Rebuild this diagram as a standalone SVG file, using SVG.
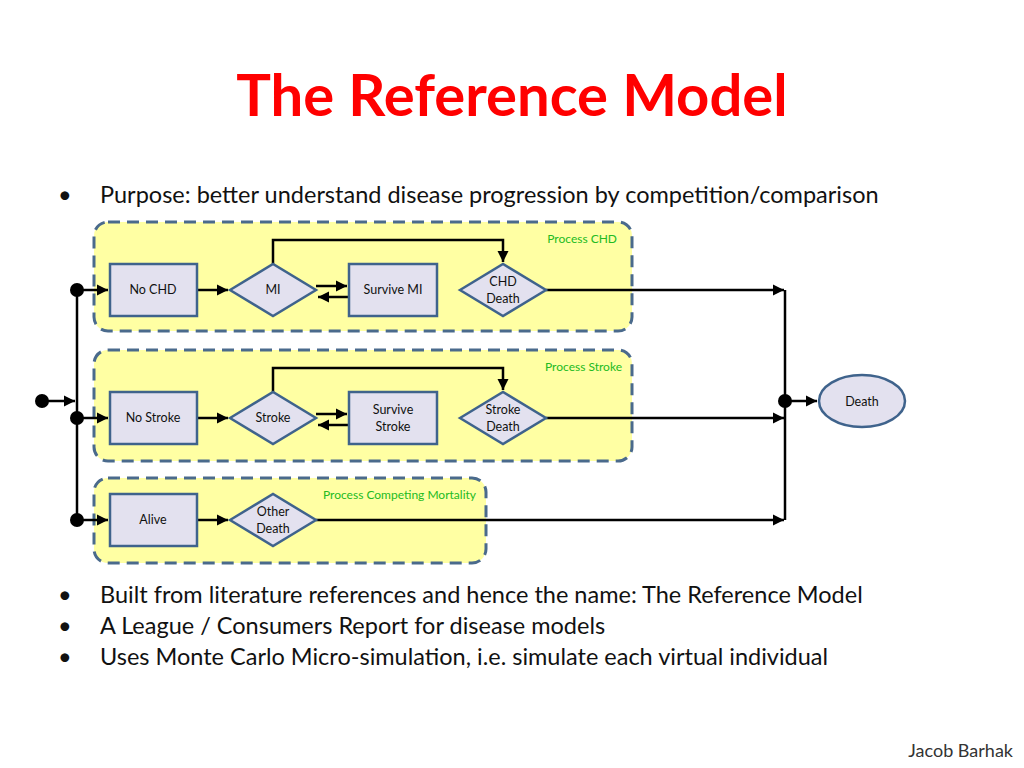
<svg xmlns="http://www.w3.org/2000/svg" width="1024" height="768" viewBox="0 0 1024 768">
<style>
.t{font-family:Lato,"Open Sans",sans-serif}
.box{fill:#ffff99;fill-opacity:0.9;stroke:#4a6a8c;stroke-width:3;stroke-dasharray:12,7}
.n{fill:#e3e1ef;stroke:#3f638c;stroke-width:2.5}
.nl{font-family:Lato,"Open Sans",sans-serif;font-size:12.5px;fill:#111;text-anchor:middle}
.pl{font-family:Lato,"Open Sans",sans-serif;font-size:12px;fill:#22bb22;text-anchor:end}
.c{fill:none;stroke:#000;stroke-width:2.5}
.b{font-family:Lato,"Open Sans",sans-serif;font-size:23.5px;fill:#111}
</style>
<defs>
<marker id="a" viewBox="0 0 10 10" refX="10" refY="5" markerWidth="4.5" markerHeight="4.5" orient="auto" markerUnits="strokeWidth"><path d="M0,0L10,5L0,10z" fill="#000"/></marker>
</defs>
<rect width="1024" height="768" fill="#fff"/>
<text x="512" y="116" class="t" font-size="58" font-weight="bold" fill="#ff0000" text-anchor="middle">The Reference Model</text>
<g class="b">
<text x="58" y="203">•</text><text x="100" y="203">Purpose: better understand disease progression by competition/comparison</text>
<text x="58" y="603">•</text><text x="100" y="603">Built from literature references and hence the name: The Reference Model</text>
<text x="58" y="634">•</text><text x="100" y="634">A League / Consumers Report for disease models</text>
<text x="58" y="665">•</text><text x="100" y="665">Uses Monte Carlo  Micro-simulation, i.e. simulate each virtual individual</text>
</g>
<text x="1013" y="757" class="t" font-size="18" fill="#333" text-anchor="end">Jacob Barhak</text>
<g id="processes">
<rect x="94" y="222" width="538" height="109" rx="14" class="box"/>
<text x="617" y="243" class="pl">Process CHD</text>
<rect x="94" y="350" width="538" height="111" rx="14" class="box"/>
<text x="622" y="371" class="pl">Process Stroke</text>
<rect x="94" y="478" width="392" height="85" rx="14" class="box"/>
<text x="476" y="499" class="pl">Process Competing Mortality</text>
</g>
<g id="connectors" class="c">
<path d="M42,401H75" marker-end="url(#a)"/>
<path d="M77,290V520"/>
<path d="M77,290H108" marker-end="url(#a)"/>
<path d="M77,418H108" marker-end="url(#a)"/>
<path d="M77,520H108" marker-end="url(#a)"/>
<path d="M197,290H228" marker-end="url(#a)"/>
<path d="M316,286H347" marker-end="url(#a)"/>
<path d="M349,297H318" marker-end="url(#a)"/>
<path d="M273,264V240H503V262" marker-end="url(#a)"/>
<path d="M546,290H784" marker-end="url(#a)"/>
<path d="M197,418H228" marker-end="url(#a)"/>
<path d="M316,414H347" marker-end="url(#a)"/>
<path d="M349,425H318" marker-end="url(#a)"/>
<path d="M273,392V368H503V390" marker-end="url(#a)"/>
<path d="M546,418H784" marker-end="url(#a)"/>
<path d="M197,520H228" marker-end="url(#a)"/>
<path d="M316,520H784" marker-end="url(#a)"/>
<path d="M785,290V520"/>
<path d="M785,401H817" marker-end="url(#a)"/>
</g>
<g id="dots" fill="#000">
<circle cx="42" cy="401" r="7"/><circle cx="77" cy="290" r="7"/><circle cx="77" cy="418" r="7"/><circle cx="77" cy="520" r="7"/><circle cx="785" cy="401" r="7"/>
</g>
<g id="noCHD"><rect x="110" y="264" width="87" height="52" class="n"/><text x="153" y="294" class="nl">No CHD</text></g>
<g id="MI"><path d="M230,290L273,264L316,290L273,316Z" class="n"/><text x="273" y="294" class="nl">MI</text></g>
<g id="surviveMI"><rect x="349" y="264" width="88" height="52" class="n"/><text x="393" y="294" class="nl">Survive MI</text></g>
<g id="chdDeath"><path d="M460,290L503,264L546,290L503,316Z" class="n"/><text x="503" y="286" class="nl">CHD</text><text x="503" y="303" class="nl">Death</text></g>
<g id="noStroke"><rect x="110" y="392" width="87" height="52" class="n"/><text x="153" y="422" class="nl">No Stroke</text></g>
<g id="stroke"><path d="M230,418L273,392L316,418L273,444Z" class="n"/><text x="273" y="422" class="nl">Stroke</text></g>
<g id="surviveStroke"><rect x="349" y="392" width="88" height="52" class="n"/><text x="393" y="414" class="nl">Survive</text><text x="393" y="431" class="nl">Stroke</text></g>
<g id="strokeDeath"><path d="M460,418L503,392L546,418L503,444Z" class="n"/><text x="503" y="414" class="nl">Stroke</text><text x="503" y="431" class="nl">Death</text></g>
<g id="alive"><rect x="110" y="494" width="87" height="52" class="n"/><text x="153" y="524" class="nl">Alive</text></g>
<g id="otherDeath"><path d="M230,520L273,494L316,520L273,546Z" class="n"/><text x="273" y="516" class="nl">Other</text><text x="273" y="533" class="nl">Death</text></g>
<g id="death"><ellipse cx="862" cy="401" rx="43" ry="26" class="n"/><text x="862" y="406" class="nl">Death</text></g>
</svg>
